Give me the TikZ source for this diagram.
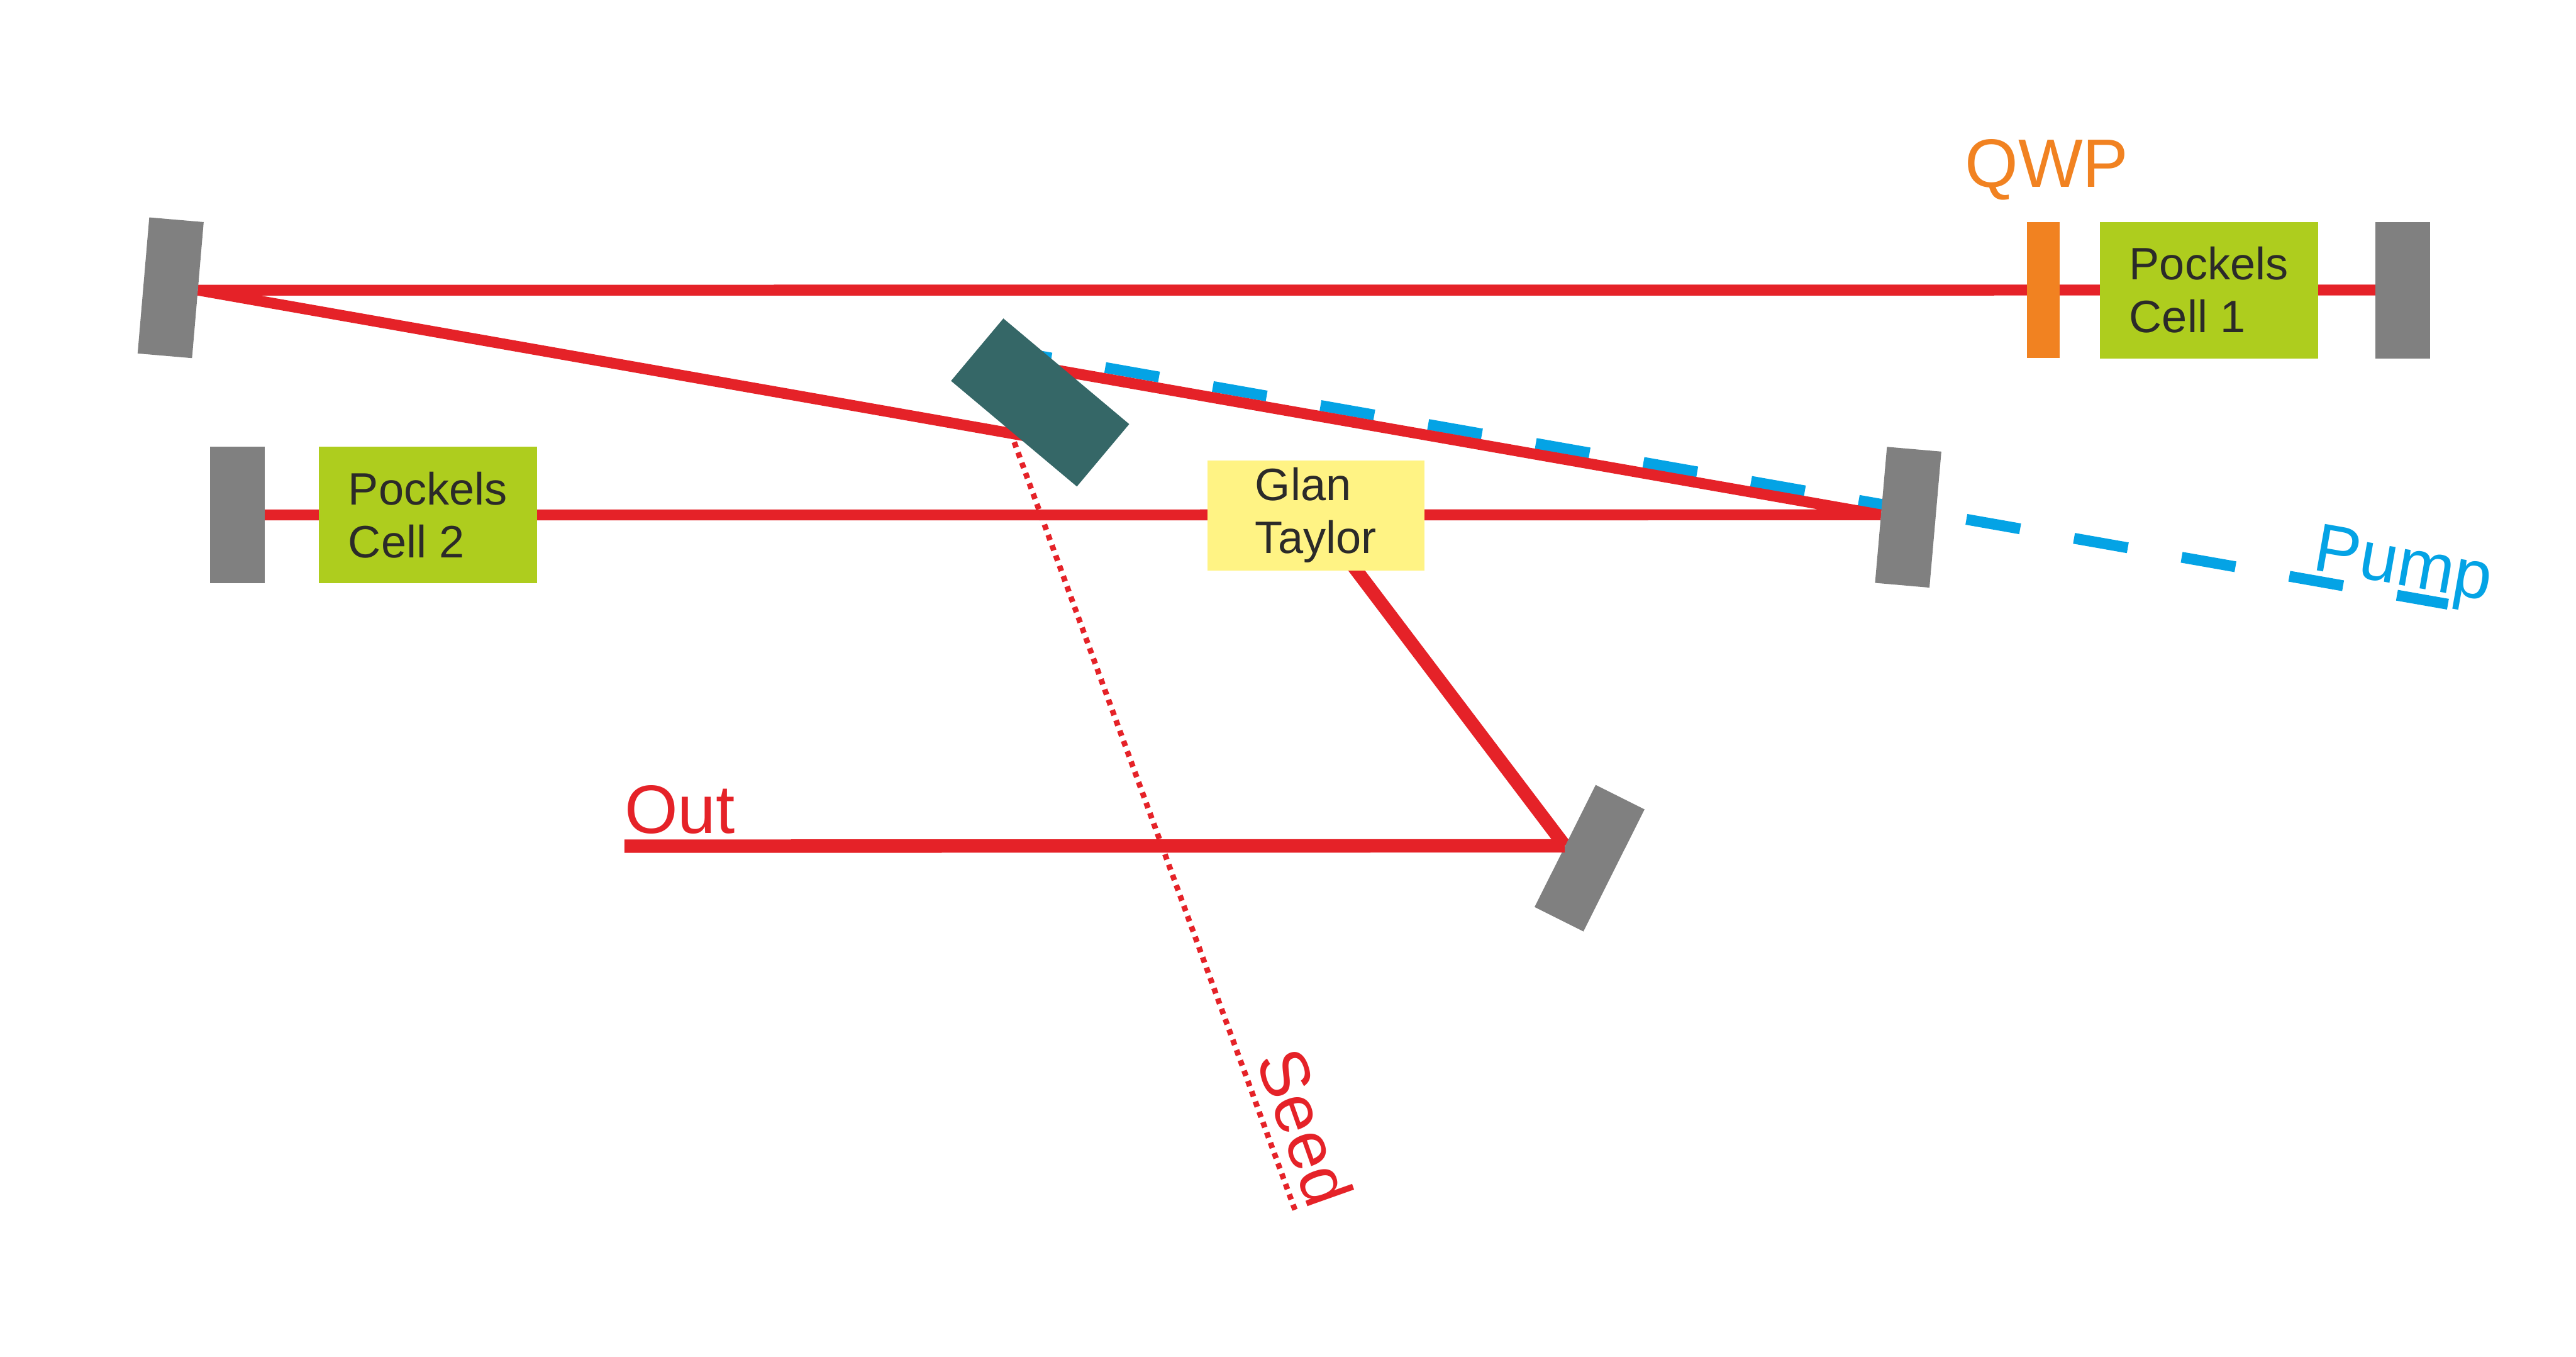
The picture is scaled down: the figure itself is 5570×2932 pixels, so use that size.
\documentclass[tikz,border=0pt]{standalone}
\usepackage{fontspec}
\setmainfont{Liberation Sans}
\pgfdeclarelayer{paper}
\pgfdeclarelayer{deep}
\pgfdeclarelayer{beams}
\pgfsetlayers{paper,deep,beams,main}
\definecolor{beamred}{HTML}{E52228}
\definecolor{mirrorgray}{HTML}{808080}
\definecolor{crystal}{HTML}{356767}
\definecolor{pumpblue}{HTML}{04A3E5}
\definecolor{qwporange}{HTML}{F18221}
\definecolor{pcgreen}{HTML}{AECD1E}
\definecolor{gtyellow}{HTML}{FFF384}
\definecolor{ink}{HTML}{2B2A29}
\tikzset{
  x=0.01cm,y=-0.01cm,
  mirror/.style={fill=mirrorgray,minimum width=1.18cm,minimum height=2.95cm,inner sep=0},
  boxtext/.style={inner sep=0,align=left,text=ink,font=\fontsize{27.9}{32.4}\selectfont},
  pockels/.style={boxtext,fill=pcgreen,minimum width=4.72cm,minimum height=2.95cm},
  glan/.style={boxtext,fill=gtyellow,minimum width=4.69cm,minimum height=2.38cm},
  bigtext/.style={inner sep=0,font=\fontsize{42.1}{48}\selectfont},
  beam/.style={draw=beamred,line width=0.235cm,line join=miter},
  thickbeam/.style={draw=beamred,line width=0.29cm},
  seedbeam/.style={draw=beamred,line width=0.12cm,dash pattern=on 0.12cm off 0.117cm},
  pumpbeam/.style={draw=pumpblue,line width=0.235cm,dash pattern=on 1.18cm off 1.182cm},
}
\begin{document}
\begin{tikzpicture}
\begin{pgfonlayer}{paper}
\path[use as bounding box,fill=white] (0,0) rectangle (5570,2932);
\end{pgfonlayer}
% components
\node[mirror,rotate=-4.9] (m1) at (369,622) {};
\node[mirror] (m2) at (5195,627) {};
\node[fill=qwporange,minimum width=0.71cm,minimum height=2.94cm,inner sep=0] (qwp) at (4418,627) {};
\node[pockels] (pc1) at (4776,627) {Pockels\\Cell 1};
\node[mirror] (m5) at (513,1113) {};
\node[pockels] (pc2) at (925,1113) {Pockels\\Cell 2};
\node[glan] (gt) at (2845,1114) {Glan\\Taylor};
\node[mirror,rotate=-5] (m4) at (4126,1118) {};
\node[fill=crystal,minimum width=3.55cm,minimum height=1.76cm,inner sep=0,rotate=-40] (bs) at (2249,870) {};
% free ends and hidden points
\coordinate (bsa) at (2250,948);
\coordinate (bsb) at (2250,794);
\coordinate (pumpa) at (2157,753.5);
\coordinate (pumpb) at (5293,1306);
\coordinate (seeda) at (2191,950);
\coordinate (seedb) at (2800,2615);
\coordinate (outend) at (1350,1829);
\coordinate (gtout) at (2900.5,1190);
% the mirror of the output beam lies over the slanted beam and under the output beam
\begin{pgfonlayer}{beams}
\node[mirror,rotate=-26.6] (m3) at (3437,1855) {};
\draw[thickbeam] (m3.west) -- (outend);
\end{pgfonlayer}
% beams
\begin{pgfonlayer}{deep}
\draw[pumpbeam] (pumpa) -- (pumpb);
\draw[seedbeam] (seedb) -- (seeda);
\draw[beam] (bsa) -- (m1.east) -- (m2.center);
\draw[beam] (bsb) -- (m4.west) -- (m5.center);
\draw[thickbeam] (gtout) -- (m3.west);
\end{pgfonlayer}
% labels
\node[bigtext,text=qwporange,anchor=base west] (lq) at (4248,405) {QWP};
\node[bigtext,text=beamred,anchor=base west] (lo) at (1350,1801) {Out};
\node[bigtext,text=beamred,anchor=base west,rotate=-70.5] (ls) at (2715,2290) {Seed};
\node[bigtext,text=pumpblue,anchor=base west,rotate=-10] (lp) at (4998,1231) {Pump};
\end{tikzpicture}
\end{document}
